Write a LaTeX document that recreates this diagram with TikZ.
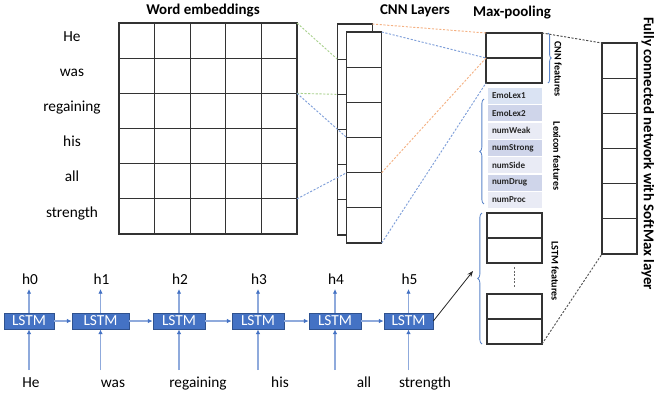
\documentclass[tikz,border=0pt]{standalone}
\usepackage{fontspec}
\setmainfont{Carlito}
\usetikzlibrary{arrows.meta,decorations.pathreplacing,calc}
\definecolor{lstmblue}{HTML}{4472C4}
\definecolor{lstmedge}{HTML}{2F528F}
\definecolor{flowblue}{HTML}{8FAADC}
\definecolor{lexA}{HTML}{DAE3F3}
\definecolor{lexB}{HTML}{CFD5EA}
\definecolor{lexC}{HTML}{E9EBF5}
\definecolor{linkgreen}{HTML}{A9D18E}
\definecolor{linkorange}{HTML}{F4B183}
\definecolor{linkblue}{HTML}{7F9FD9}
\definecolor{bracecol}{HTML}{5B84C9}
\newcommand\pxu{0.75pt}
\begin{document}
\begin{tikzpicture}[x=0.75pt,y=-0.75pt,
  cellbox/.style={draw=black!80, line width=0.8pt, fill=white, inner sep=0pt, outer sep=0pt},
  embcell/.style={cellbox, minimum width=35.6*\pxu, minimum height=35.17*\pxu},
  cnncell/.style={cellbox, minimum width=35*\pxu, minimum height=35.17*\pxu},
  poolcell/.style={cellbox, minimum width=56*\pxu, minimum height=25*\pxu},
  featcell/.style={cellbox, minimum width=55*\pxu, minimum height=25*\pxu},
  lexrow/.style={inner sep=0pt, outer sep=0pt, minimum width=54*\pxu, minimum height=16*\pxu,
    text width=46*\pxu, align=left, font=\fontsize{6.8}{8}\selectfont\bfseries, text=black!85},
  title/.style={font=\fontsize{11.2}{13}\selectfont\bfseries, inner sep=1pt},
  flabel/.style={font=\fontsize{7.6}{9}\selectfont\bfseries, rotate=-90, inner sep=1pt},
  word/.style={font=\fontsize{11.5}{13}\selectfont, inner sep=1.5pt, text height=8pt, text depth=2pt},
  lstm/.style={draw=lstmedge, line width=0.5pt, fill=lstmblue, text=white, inner sep=0pt,
    minimum height=16*\pxu, font=\fontsize{11.5}{13}\selectfont},
  flow/.style={draw=flowblue, line width=1.1pt, -{Latex[length=3.6pt,width=3.4pt,color=lstmblue]}},
  link/.style={line width=0.7pt, dash pattern=on 1.6pt off 1.2pt},
  bracket/.style={draw=bracecol, line width=0.6pt, decorate},
]
\useasboundingbox (0,0) rectangle (654,394);

% titles
\node[title] (t-emb) at (203,11) {Word embeddings};
\node[title] (t-cnn) at (415,11) {CNN Layers};
\node[title] (t-max) at (512,13) {Max-pooling};
\node[title, rotate=-90] (t-fc) at (648,153.5) {Fully connected network with SoftMax layer};

% word embedding matrix and its words
\foreach \r in {1,...,6}
  \foreach \c in {1,...,5}
    \node[embcell] (e-\r-\c) at ({119+35.6*(\c-0.5)}, {23+35.17*(\r-0.5)}) {};
\foreach \w [count=\i] in {He,was,regaining,his,all,strength}
  \node[word] (wl-\i) at (72, {37+35.2*(\i-1)}) {\w};

% two stacked convolution layers
\foreach \i in {1,...,6}
  \node[cnncell] (b-\i) at (354.8, {24+35.17*(\i-0.5)}) {};
\foreach \i in {1,...,6}
  \node[cnncell] (f-\i) at (364.2, {32+35.17*(\i-0.5)}) {};

% max-pooling output
\node[poolcell] (m-1) at (514,45.5) {};
\node[poolcell] (m-2) at (514,70.5) {};

% lexicon features
\foreach \t/\col [count=\i] in {EmoLex1/lexA, EmoLex2/lexB, numWeak/lexC, numStrong/lexB,
    numSide/lexC, numDrug/lexB, numProc/lexC}
  \node[lexrow, fill=\col] (x-\i) at (515, {96+17.33*(\i-1)}) {\t};

% LSTM features
\node[featcell] (l-1) at (514.5,225.5) {};
\node[featcell] (l-2) at (514.5,250.5) {};
\node[featcell] (l-3) at (514.5,306.5) {};
\node[featcell] (l-4) at (514.5,331.5) {};
\draw[black!60, line width=0.6pt, dash pattern=on 1.5pt off 1.2pt, shorten <=3pt, shorten >=4.5pt]
  (l-2.south) -- (l-3.north);

% fully connected layer
\foreach \i in {1,...,6}
  \node[cnncell] (c-\i) at (619.5, {43+35.17*(\i-0.5)}) {};

% feature group braces and labels
\draw[bracket, decoration={brace, amplitude=2.4pt}]
  ($(m-1.north east)+(6,0)$) -- ($(m-2.south east)+(6,0)$);
\draw[bracket, decoration={brace, amplitude=3.2pt}]
  ($(x-7.south west)+(-4,-4)$) -- ($(x-1.north west)+(-4,11)$);
\draw[bracket, decoration={brace, amplitude=3.2pt}]
  ($(l-4.south west)+(-5,0)$) -- ($(l-1.north west)+(-5,0)$);
\node[flabel] (fl-cnn) at (558,69) {CNN features};
\node[flabel] (fl-lex) at (557,156) {Lexicon features};
\node[flabel] (fl-lstm) at (555,271) {LSTM features};

% links between layers
\draw[link, linkgreen] (e-1-5.north east) -- (b-1.south west);
\draw[link, linkgreen] (e-3-5.north east) -- (b-3.north west);
\draw[link, linkblue] (e-3-5.north east) -- (f-4.north west);
\draw[link, linkblue] (e-6-5.north east) -- (f-5.north west);
\draw[link, linkorange] (b-1.north east) -- (m-1.north west);
\draw[link, linkorange] (f-5.north east) -- (m-1.south west);
\draw[link, linkblue] (f-1.north east) -- (m-1.south west);
\draw[link, linkblue] (f-6.south east) -- (m-2.south west);
\draw[link, black!70] (m-1.north east) -- (c-1.north west);
\draw[link, black!70] (l-4.south east) -- (c-6.south west);

% LSTM chain
\foreach \cx/\w [count=\i from 0] in {29/50, 100.5/57, 179/52, 258/52, 335/52, 408.5/49}
  \node[lstm, minimum width=\w*\pxu] (s-\i) at (\cx,321) {LSTM};
\foreach \i in {0,...,5}
  \node[word, font=\fontsize{11.5}{13}\selectfont] (h-\i) at ($(s-\i)+(1,-41)$) {h\i};
\foreach \t/\x [count=\i from 0] in {He/31, was/113, regaining/198, his/280, all/364, strength/425}
  \node[word] (in-\i) at (\x,383) {\t};
\foreach \i in {0,...,5} {
  \draw[flow] (s-\i.north) -- (s-\i.north |- h-\i.south);
  \draw[flow, shorten <=3pt] (s-\i.south |- in-\i.north) -- (s-\i.south);
}
\foreach \i [evaluate=\i as \j using int(\i+1)] in {0,...,4}
  \draw[flow] (s-\i.east) -- (s-\j.west);

% last hidden state feeds the LSTM features
\coordinate (lstmtip) at (473,271);
\draw[black!85, line width=0.6pt, -{Stealth[length=4.5pt,width=3.5pt]}] (s-5.east) -- (lstmtip);
\end{tikzpicture}
\end{document}
